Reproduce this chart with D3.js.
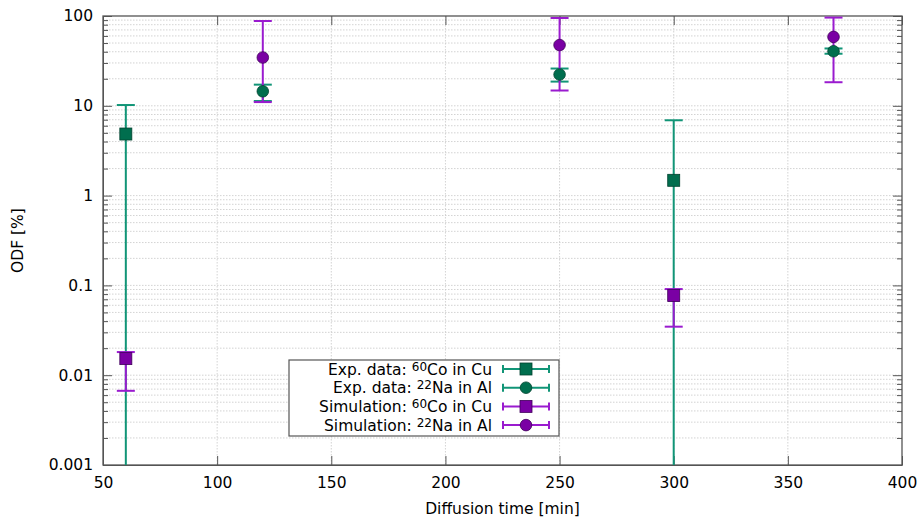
<!DOCTYPE html>
<html><head><meta charset="utf-8">
<script src="https://cdn.jsdelivr.net/npm/d3@7"></script>
<style>body{margin:0;background:#fff}svg{display:block}text{font-family:"DejaVu Sans",sans-serif}</style>
</head><body><svg id="c" width="921" height="519"></svg>
<script>
const xTicks = [50,100,150,200,250,300,350,400];
const yTicks = [0.001,0.01,0.1,1,10,100];
const yTickLabels = ["0.001","0.01","0.1","1","10","100"];

const expCoX = [60,300];
const expCoY = [4.85,1.48];
const expCoLo = [0.0001,0.0001];
const expCoHi = [10.2,6.9];

const expNaX = [120,250,370];
const expNaY = [14.5,22.3,40.5];
const expNaLo = [11.3,18.6,38.0];
const expNaHi = [17.2,26.0,43.5];

const simCoX = [60,300];
const simCoY = [0.0153,0.077];
const simCoLo = [0.0067,0.0347];
const simCoHi = [0.0181,0.091];

const simNaX = [120,250,370];
const simNaY = [34.5,47.5,58.5];
const simNaLo = [11.0,14.8,18.3];
const simNaHi = [88,95,96];

const seriesNames = ["Exp. data: ", "Exp. data: ", "Simulation: ", "Simulation: "];
const seriesIso = [["60","Co in Cu"],["22","Na in Al"],["60","Co in Cu"],["22","Na in Al"]];

const GREEN="#119577", GREENF="#006e4e", GREENS="#00422f";
const PURP="#9a1bcf", PURPF="#7a00a4", PURPS="#40005a";

const series = [
  {x:expCoX,y:expCoY,lo:expCoLo,hi:expCoHi,shape:"sq",bar:GREEN,fill:GREENF,stroke:GREENS},
  {x:expNaX,y:expNaY,lo:expNaLo,hi:expNaHi,shape:"ci",bar:GREEN,fill:GREENF,stroke:GREENS},
  {x:simCoX,y:simCoY,lo:simCoLo,hi:simCoHi,shape:"sq",bar:PURP,fill:PURPF,stroke:PURPS},
  {x:simNaX,y:simNaY,lo:simNaLo,hi:simNaHi,shape:"ci",bar:PURP,fill:PURPF,stroke:PURPS}
];

const L=103,R=902,T=16,B=465;
const FS=15.5;
const svg=d3.select("#c");
const x=d3.scaleLinear().domain([50,400]).range([L,R]);
const y=d3.scaleLog().domain([0.001,100]).range([B,T]).clamp(true);

const minor=[];
for(let e=-3;e<2;e++){for(let m=2;m<=9;m++){minor.push(m*Math.pow(10,e));}}

const grid=svg.append("g");
grid.selectAll("line.h").data(minor.concat(yTicks.slice(1,-1))).enter().append("line")
 .attr("x1",L).attr("x2",R).attr("y1",d=>y(d)).attr("y2",d=>y(d))
 .attr("stroke","#c8c8c8").attr("stroke-width",0.8).attr("stroke-dasharray","1.5,1.5");
grid.selectAll("line.v").data(xTicks.slice(1,-1)).enter().append("line")
 .attr("y1",T).attr("y2",B).attr("x1",d=>x(d)).attr("x2",d=>x(d))
 .attr("stroke","#c8c8c8").attr("stroke-width",0.8).attr("stroke-dasharray","1.5,1.5");

const axG=svg.append("g");
const yAx=d3.axisLeft(y).tickValues(yTicks).tickFormat((d,i)=>yTickLabels[i]).tickSizeInner(-9).tickSizeOuter(0).tickPadding(10);
axG.append("g").attr("transform",`translate(${L},0)`).call(yAx);
axG.append("g").attr("transform",`translate(${L},0)`).call(d3.axisLeft(y).tickValues(minor).tickFormat("").tickSizeInner(-5).tickSizeOuter(0)).select(".domain").remove();
axG.append("g").attr("transform",`translate(${R},0)`).call(d3.axisRight(y).tickValues(yTicks).tickFormat("").tickSizeInner(-9).tickSizeOuter(0)).select(".domain").remove();
axG.append("g").attr("transform",`translate(${R},0)`).call(d3.axisRight(y).tickValues(minor).tickFormat("").tickSizeInner(-5).tickSizeOuter(0)).select(".domain").remove();
axG.append("g").attr("transform",`translate(0,${B})`).call(d3.axisBottom(x).tickValues(xTicks).tickFormat(d3.format("d")).tickSizeInner(-9).tickSizeOuter(0).tickPadding(12));
axG.append("g").attr("transform",`translate(0,${T})`).call(d3.axisTop(x).tickValues(xTicks).tickFormat("").tickSizeInner(-9).tickSizeOuter(0)).select(".domain").remove();
axG.selectAll("text").attr("font-size",FS).attr("fill","#000").attr("font-family","DejaVu Sans");
axG.selectAll("line").attr("stroke","#555");
axG.selectAll(".domain").attr("stroke","#555");
svg.append("rect").attr("x",L).attr("y",T).attr("width",R-L).attr("height",B-T).attr("fill","none").attr("stroke","#555").attr("stroke-width",1.3);

svg.append("text").attr("transform",`translate(23,${(T+B)/2}) rotate(-90)`).attr("text-anchor","middle").attr("font-size",FS).text("ODF [%]");
svg.append("text").attr("x",(L+R)/2).attr("y",514).attr("text-anchor","middle").attr("font-size",FS).text("Diffusion time [min]");

const cap=9;
function marker(g,shape,cx,cy,s){
  if(shape==="sq") g.append("rect").attr("x",cx-6).attr("y",cy-6).attr("width",12).attr("height",12)
     .attr("fill",s.fill).attr("stroke",s.stroke).attr("stroke-width",0.8);
  else g.append("circle").attr("cx",cx).attr("cy",cy).attr("r",5.8).attr("fill",s.fill).attr("stroke",s.stroke).attr("stroke-width",0.8);
}
const dataG=svg.append("g");
series.forEach(s=>{
  const g=dataG.append("g");
  s.x.forEach((xv,i)=>{
    const px=x(xv), plo=y(s.lo[i]), phi=y(s.hi[i]);
    g.append("line").attr("x1",px).attr("x2",px).attr("y1",plo).attr("y2",phi).attr("stroke",s.bar).attr("stroke-width",2);
    if(s.lo[i]>=0.001) g.append("line").attr("x1",px-cap).attr("x2",px+cap).attr("y1",plo).attr("y2",plo).attr("stroke",s.bar).attr("stroke-width",2);
    g.append("line").attr("x1",px-cap).attr("x2",px+cap).attr("y1",phi).attr("y2",phi).attr("stroke",s.bar).attr("stroke-width",2);
  });
});
series.forEach(s=>{
  const g=dataG.append("g");
  s.x.forEach((xv,i)=>marker(g,s.shape,x(xv),y(s.y[i]),s));
});

const lg=svg.append("g");
lg.append("rect").attr("x",289).attr("y",360).attr("width",270).attr("height",76).attr("fill","#fff").attr("stroke","#555").attr("stroke-width",1.2);
series.forEach((s,i)=>{
  const cy=369+i*18.7;
  const t=lg.append("text").attr("x",492).attr("y",cy+5.5).attr("text-anchor","end").attr("font-size",FS);
  t.append("tspan").text(seriesNames[i]);
  t.append("tspan").attr("font-size",12).attr("dy",-4).text(seriesIso[i][0]);
  t.append("tspan").attr("dy",4).text(seriesIso[i][1]);
  lg.append("line").attr("x1",503).attr("x2",549).attr("y1",cy).attr("y2",cy).attr("stroke",s.bar).attr("stroke-width",2);
  [503,549].forEach(xx=>lg.append("line").attr("x1",xx).attr("x2",xx).attr("y1",cy-4).attr("y2",cy+4).attr("stroke",s.bar).attr("stroke-width",2));
  marker(lg,s.shape,526,cy,s);
});
</script></body></html>
